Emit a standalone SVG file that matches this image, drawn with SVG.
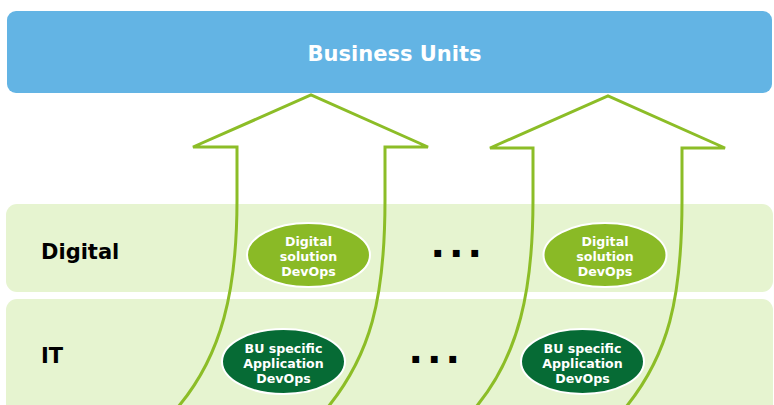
<svg xmlns="http://www.w3.org/2000/svg" width="774" height="405" viewBox="0 0 774 405">
  <style>
    .lbl { font-family: "DejaVu Sans", Verdana, sans-serif; font-weight: bold; }
    .row { fill: #e6f4d0; }
    .arrow { fill: none; stroke: #8cbd27; stroke-width: 3; stroke-linejoin: miter; }
    .ell-light { fill: #8aba26; stroke: #ffffff; stroke-width: 2; }
    .ell-dark { fill: #066b35; stroke: #ffffff; stroke-width: 2; }
    .ell-text { fill: #ffffff; font-size: 12.6px; text-anchor: middle; }
    .row-text { fill: #000000; font-size: 21px; }
    .dots { fill: #000000; font-size: 38px; letter-spacing: 4px; }
  </style>
  <rect width="774" height="405" fill="#ffffff"/>

  <g id="business-units">
    <rect x="7" y="11" width="765" height="82" rx="9" fill="#63b4e4"/>
    <text class="lbl" x="394.5" y="61" font-size="21" fill="#ffffff" text-anchor="middle">Business Units</text>
  </g>

  <g id="row-digital">
    <rect class="row" x="6" y="204" width="767" height="88" rx="11"/>
    <text class="lbl row-text" x="41" y="259">Digital</text>
  </g>

  <g id="row-it">
    <rect class="row" x="6" y="299" width="767" height="120" rx="11"/>
    <text class="lbl row-text" x="41" y="363">IT</text>
  </g>

  <g id="connectors">
    <path class="arrow" d="M178,407 C222,355 237,290 237,200 L237,147 L193,147 L311,95 L428,147 L385,147 L385,200 C385,300 370,355 328,407"/>
    <path class="arrow" d="M476,407 C519,355 533,290 533,200 L533,148 L490,148 L608,96 L725,148 L682,148 L682,200 C682,300 668,355 626,407"/>
  </g>

  <g id="digital-devops-1">
    <ellipse class="ell-light" cx="308.5" cy="255" rx="61.5" ry="32"/>
    <text class="lbl ell-text" x="308.5" y="245.5">Digital</text>
    <text class="lbl ell-text" x="308.5" y="260.5">solution</text>
    <text class="lbl ell-text" x="308.5" y="275.5">DevOps</text>
  </g>

  <g id="digital-devops-2">
    <ellipse class="ell-light" cx="605" cy="255" rx="61.5" ry="32"/>
    <text class="lbl ell-text" x="605" y="245.5">Digital</text>
    <text class="lbl ell-text" x="605" y="260.5">solution</text>
    <text class="lbl ell-text" x="605" y="275.5">DevOps</text>
  </g>

  <g id="bu-devops-1">
    <ellipse class="ell-dark" cx="283.5" cy="361.5" rx="61.5" ry="32.5"/>
    <text class="lbl ell-text" x="283.5" y="353">BU specific</text>
    <text class="lbl ell-text" x="283.5" y="368">Application</text>
    <text class="lbl ell-text" x="283.5" y="383">DevOps</text>
  </g>

  <g id="bu-devops-2">
    <ellipse class="ell-dark" cx="582.5" cy="361.5" rx="61.5" ry="32.5"/>
    <text class="lbl ell-text" x="582.5" y="353">BU specific</text>
    <text class="lbl ell-text" x="582.5" y="368">Application</text>
    <text class="lbl ell-text" x="582.5" y="383">DevOps</text>
  </g>

  <g id="ellipsis-digital">
    <text class="lbl dots" x="430.6" y="257">...</text>
  </g>
  <g id="ellipsis-it">
    <text class="lbl dots" x="408.6" y="363">...</text>
  </g>
</svg>
